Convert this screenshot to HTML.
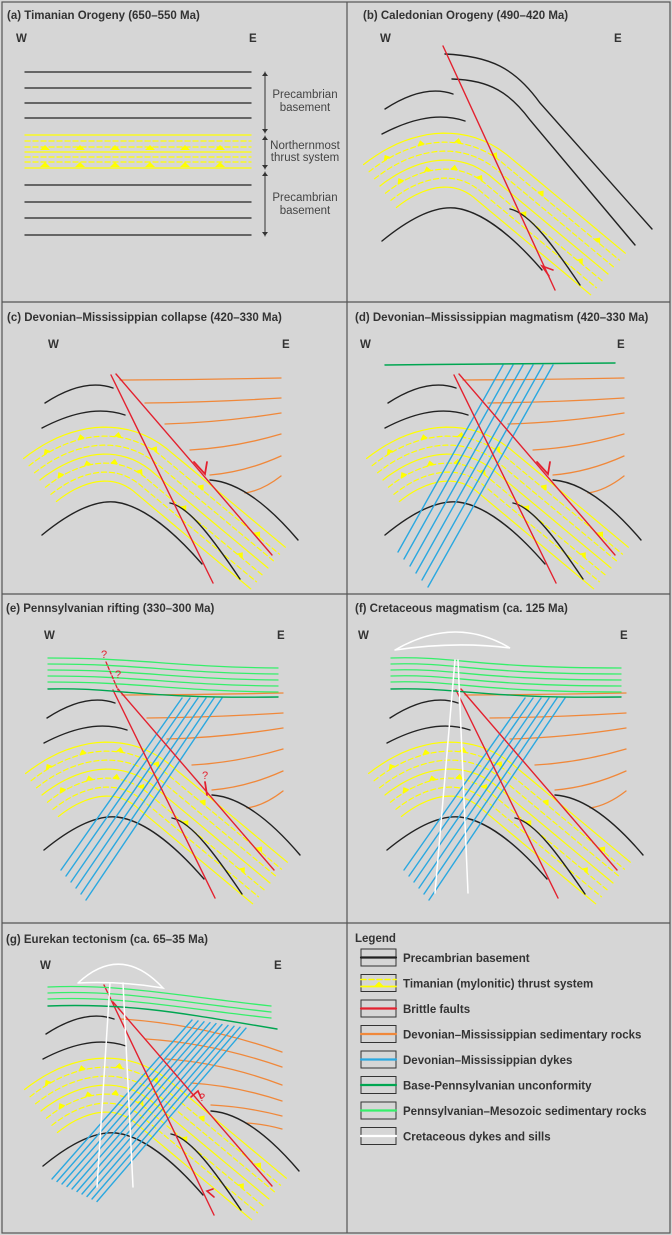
<!DOCTYPE html>
<html><head><meta charset="utf-8">
<style>
html,body{margin:0;padding:0;background:#d6d6d6;}
svg{display:block;font-family:"Liberation Sans",sans-serif;}
.t{font-weight:bold;font-size:11.5px;fill:#333;}
.we{font-weight:bold;font-size:11.5px;fill:#333;}
.lab{font-size:11.5px;fill:#444;}
.lg{font-weight:bold;font-size:11.5px;fill:#333;}
</style></head>
<body>
<svg id="fig" width="672" height="1235" viewBox="0 0 672 1235" xmlns="http://www.w3.org/2000/svg">
<rect x="0" y="0" width="672" height="1235" fill="#d6d6d6"/>
<defs>
<clipPath id="cb"><rect x="347" y="3" width="323" height="299"/></clipPath>
<clipPath id="cc"><rect x="3" y="302" width="344" height="292"/></clipPath>
<clipPath id="cd"><rect x="347" y="302" width="323" height="292"/></clipPath>
<clipPath id="ce"><rect x="3" y="594" width="344" height="329"/></clipPath>
<clipPath id="cf"><rect x="347" y="594" width="323" height="329"/></clipPath>
<clipPath id="cg"><rect x="3" y="923" width="344" height="310"/></clipPath>
</defs>
<g stroke="#555" stroke-width="1.2" fill="none">
<rect x="2" y="2" width="668" height="1231"/>
<line x1="347" y1="2" x2="347" y2="1233"/>
<line x1="2" y1="302" x2="670" y2="302"/>
<line x1="2" y1="594" x2="670" y2="594"/>
<line x1="2" y1="923" x2="670" y2="923"/>
</g>
<g>
<text class="t" x="7" y="19">(a) Timanian Orogeny (650–550 Ma)</text>
<text class="t" x="363" y="19">(b) Caledonian Orogeny (490–420 Ma)</text>
<text class="t" x="7" y="321">(c) Devonian–Mississippian collapse (420–330 Ma)</text>
<text class="t" x="355" y="321">(d) Devonian–Mississippian magmatism (420–330 Ma)</text>
<text class="t" x="6" y="612">(e) Pennsylvanian rifting (330–300 Ma)</text>
<text class="t" x="355" y="612">(f) Cretaceous magmatism (ca. 125 Ma)</text>
<text class="t" x="6" y="943">(g) Eurekan tectonism (ca. 65–35 Ma)</text>
</g>
<g>
<text class="we" x="16" y="42">W</text><text class="we" x="249" y="42">E</text>
<text class="we" x="380" y="42">W</text><text class="we" x="614" y="42">E</text>
<text class="we" x="48" y="348">W</text><text class="we" x="282" y="348">E</text>
<text class="we" x="360" y="348">W</text><text class="we" x="617" y="348">E</text>
<text class="we" x="44" y="639">W</text><text class="we" x="277" y="639">E</text>
<text class="we" x="358" y="639">W</text><text class="we" x="620" y="639">E</text>
<text class="we" x="40" y="969">W</text><text class="we" x="274" y="969">E</text>
</g>
<g id="pa"></g>
<g id="pb" clip-path="url(#cb)"><g transform="translate(340,8)" id="sb"></g></g>
<g id="pc" clip-path="url(#cc)"><g transform="translate(0,302)" id="sc"></g></g>
<g id="pd" clip-path="url(#cd)"><g transform="translate(343,302)" id="sd"></g></g>
<g id="pe" clip-path="url(#ce)"><g transform="translate(2,617)" id="se"></g></g>
<g id="pf" clip-path="url(#cf)"><g transform="translate(345,617)" id="sf"></g></g>
<g id="pg" clip-path="url(#cg)"><g transform="translate(1,933)" id="sg"></g></g>
<g id="legend">
<text class="lg" x="355" y="942">Legend</text>
</g>
</svg>
<script>
const NS='http://www.w3.org/2000/svg';
const C={black:'#222',yellow:'#ffff00',red:'#e3212f',orange:'#f0883a',blue:'#2aa8e0',dgreen:'#00a651',lgreen:'#35ef6a',white:'#ffffff'};
const legendLabels=['Precambrian basement','Timanian (mylonitic) thrust system','Brittle faults','Devonian–Mississippian sedimentary rocks','Devonian–Mississippian dykes','Base-Pennsylvanian unconformity','Pennsylvanian–Mesozoic sedimentary rocks','Cretaceous dykes and sills'];
const legendKeys=['black','yellow','red','orange','blue','dgreen','lgreen','white'];
const bandOffsets=[-27,-18,-9,0,9,18,27];
const bandDashed=[false,true,true,false,true,true,false];
const orangeY=[78,101,122,148,173,191];
const orangeX0=[120,145,165,190,210,245];
const orangeYEnd=[76,96,111,132,154,174];
const gOrangeY=[86,106,126,150,172,190];
const gOrangeYEnd=[119,134,152,168,183,196];

function mk(parent,tag,attrs){const e=document.createElementNS(NS,tag);for(const k in attrs)e.setAttribute(k,attrs[k]);parent.appendChild(e);return e;}
function path(g,d,col,w,dash,name){
  const p=mk(g,'path',{d:d,stroke:col,'stroke-width':w||1.3,fill:'none','stroke-linecap':'round'});
  if(dash)p.setAttribute('stroke-dasharray',dash);
  
  
  return p;
}
function bandCenter(){
  const pts=[];const P=[[40,178],[75,150],[120,140],[155,172]];
  for(let i=0;i<=20;i++){const t=i/20,u=1-t;
    pts.push([u*u*u*P[0][0]+3*u*u*t*P[1][0]+3*u*t*t*P[2][0]+t*t*t*P[3][0],
              u*u*u*P[0][1]+3*u*u*t*P[1][1]+3*u*t*t*P[2][1]+t*t*t*P[3][1]]);}
  for(let i=1;i<=10;i++){const t=i/10;pts.push([155+(268-155)*t,172+(266-172)*t]);}
  return pts;
}
function offsetPts(pts,o){
  return pts.map((p,i)=>{const a=pts[Math.max(0,i-1)],b=pts[Math.min(pts.length-1,i+1)];
    let dx=b[0]-a[0],dy=b[1]-a[1];const L=Math.hypot(dx,dy);dx/=L;dy/=L;
    return [p[0]+dy*o,p[1]-dx*o,dx,dy];});
}
function drawBand(g){
  const c=bandCenter();
  bandOffsets.forEach((o,k)=>{
    const q=offsetPts(c,o);
    const d='M'+q.map(p=>p[0].toFixed(1)+','+p[1].toFixed(1)).join(' L');
    path(g,d,C.yellow,1.2,bandDashed[k]?'5,3':null,'thrust-band-line');
    if(o===-9||o===18){
      for(let i=3;i<q.length;i+=5){const p=q[i];
        const nx=p[3],ny=-p[2];
        const pts=[p[0]-p[2]*4,p[1]-p[3]*4,p[0]+p[2]*4,p[1]+p[3]*4,p[0]+nx*5,p[1]+ny*5].map(v=>v.toFixed(1));
        const t=mk(g,'polygon',{points:`${pts[0]},${pts[1]} ${pts[2]},${pts[3]} ${pts[4]},${pts[5]}`,fill:C.yellow});
        
        
      }
    }
  });
}
function drawBase(g){
  drawBand(g);
  path(g,'M45,101 C65,88 90,78 113,86',C.black,1.4,null,'basement-arc');
  path(g,'M42,126 C65,114 95,103 125,113',C.black,1.4,null,'basement-arc');
  path(g,'M42,233 C70,210 95,198 115,200 C140,203 170,225 202,262',C.black,1.4,null,'basement-arc-lower');
  path(g,'M170,201 C190,205 215,240 240,277',C.black,1.4,null,'basement-arc-faulted');
}
function drawOrange(g,ys,ye){
  ys.forEach((y,i)=>{const x0=orangeX0[i];const y2=ye[i];
    path(g,`M${x0},${y} Q${(x0+280)/2},${y+(y2-y)*0.15} 281,${y2}`,C.orange,1.3,null,'sediment-line');});
  path(g,'M210,178 C240,180 270,205 298,238',C.black,1.4,null,'basement-arc-east');
}
function faults(g){
  path(g,'M111,73 L213,281',C.red,1.4,null,'brittle-fault');
  path(g,'M116,72 L272,253',C.red,1.4,null,'brittle-fault');
}
function dykes(g,n,x0,y0,dxb,dyb,xt,yt,dxt,dyt){
  for(let i=0;i<n;i++)path(g,`M${x0+dxb*i},${y0+dyb*i} L${xt+dxt*i},${yt+dyt*i}`,C.blue,1.4,null,'dyke');
}
function q(g,x,y){const t=mk(g,'text',{x:x,y:y,fill:C.red,'font-size':'11'});t.textContent='?';}

(function(){
  const g=document.getElementById('pa');
  [72,88,103,118,185,202,218,235].forEach(y=>path(g,`M25,${y} L251,${y}`,C.black,1.3,null,'basement-line'));
  [[135,0],[141,1],[147,1],[152,0],[157,1],[162,1],[168,0]].forEach(a=>path(g,`M25,${a[0]} L251,${a[0]}`,C.yellow,1.3,a[1]?'5,3':null,'thrust-line'));
  [45,80,115,150,185,220].forEach(x=>{[150,167].forEach(y=>{const t=mk(g,'polygon',{points:`${x-5},${y} ${x+5},${y} ${x},${y-5}`,fill:C.yellow});});});
  [[72,133],[136,169],[172,236]].forEach(a=>{path(g,`M265,${a[0]} L265,${a[1]}`,'#333',1,null,'extent-arrow');
    mk(g,'polygon',{points:`262,${a[0]+4} 268,${a[0]+4} 265,${a[0]}`,fill:'#333'});
    mk(g,'polygon',{points:`262,${a[1]-4} 268,${a[1]-4} 265,${a[1]}`,fill:'#333'});});
  const labs=[['Precambrian',98],['basement',111],['Northernmost',149],['thrust system',161],['Precambrian',201],['basement',214]];
  labs.forEach(l=>{const t=mk(g,'text',{x:305,y:l[1],'text-anchor':'middle',class:'lab'});t.textContent=l[0];});
})();
(function(){const g=document.getElementById('sb');drawBase(g);
  path(g,'M105,46 C150,48 175,60 200,95 L312,221',C.black,1.4,null,'basement-arc-east');
  path(g,'M112,71 C150,72 170,85 190,112 L295,237',C.black,1.4,null,'basement-arc-east');
  path(g,'M103,38 L215,282',C.red,1.4,null,'brittle-fault');
  path(g,'M209,268 L202,258 L213,262',C.red,1.6,null,'fault-arrow');
})();
(function(){const g=document.getElementById('sc');drawBase(g);drawOrange(g,orangeY,orangeYEnd);faults(g);
  path(g,'M194,160 L205,172 L207,160',C.red,1.8,null,'fault-arrow');})();
(function(){const g=document.getElementById('sd');drawBase(g);drawOrange(g,orangeY,orangeYEnd);
  dykes(g,6,55,250,6,7,160,63,10,0);faults(g);
  path(g,'M42,63 C120,62 200,62 272,61',C.dgreen,1.4,null,'unconformity');
  path(g,'M194,160 L205,172 L207,160',C.red,1.8,null,'fault-arrow');})();
(function(){const g=document.getElementById('se');drawBase(g);drawOrange(g,orangeY,orangeYEnd);
  dykes(g,6,59,253,5,6,180,81,8,0);faults(g);
  [41,47,53,59,65].forEach((y,i)=>path(g,`M46,${y} C140,${y} 170,${y+9} 276,${y+10}`,C.lgreen,1.3,null,'pennsylvanian-line'));
  path(g,'M46,72 C110,70 140,82 276,80',C.dgreen,1.4,null,'unconformity');
  path(g,'M104,45 L116,73',C.red,1.3,'3,2','inferred-fault');
  q(g,99,41);q(g,113,61);q(g,200,162);
  path(g,'M203,165 L205,178',C.red,1.8,null,'fault-arrow');})();
(function(){const g=document.getElementById('sf');drawBase(g);drawOrange(g,orangeY,orangeYEnd);
  dykes(g,6,59,253,5,6,180,81,8,0);faults(g);
  [41,47,53,59,65].forEach((y,i)=>path(g,`M46,${y} C110,${y-2} 130,${y+10} 276,${y+10}`,C.lgreen,1.3,null,'pennsylvanian-line'));
  path(g,'M46,72 C110,70 140,82 276,80',C.dgreen,1.4,null,'unconformity');
  path(g,'M90,276 L110,43 M123,276 L113,43',C.white,1.5,null,'cretaceous-dyke');
  path(g,'M50,33 Q110,-2 165,31 Q110,24 50,33',C.white,1.5,null,'cretaceous-sill');})();
(function(){const g=document.getElementById('sg');drawBase(g);drawOrange(g,gOrangeY,gOrangeYEnd);
  dykes(g,10,51,246,5,2.5,191,87,6,0.9);
  path(g,'M103,52 L213,282',C.red,1.4,null,'brittle-fault');
  path(g,'M112,69 L271,253',C.red,1.4,null,'brittle-fault');
  [54,60,66].forEach(y=>path(g,`M47,${y} C120,${y-3} 170,${y+8} 270,${y+19}`,C.lgreen,1.3,null,'pennsylvanian-line'));
  path(g,'M47,73 C130,70 180,80 276,96',C.dgreen,1.4,null,'unconformity');
  path(g,'M96,254 L109,50 M132,254 L122,50',C.white,1.5,null,'cretaceous-dyke');
  path(g,'M77,50 Q120,10 162,55 Q120,48 77,50',C.white,1.5,null,'cretaceous-sill');
  path(g,'M190,164 L197,158 L200,165',C.red,1.6,null,'fault-arrow');q(g,198,168);
  path(g,'M213,264 L206,258 L212,256',C.red,1.6,null,'fault-arrow');})();
(function(){const g=document.getElementById('legend');
  legendLabels.forEach((lab,i)=>{const y=949+i*25.5;
    const r=mk(g,'rect',{x:361,y:y,width:35,height:17,fill:'#d6d6d6',stroke:'#333','stroke-width':1});
    
    const k=legendKeys[i];
    if(k==='yellow'){path(g,`M361,${y+5} L396,${y+5}`,C.yellow,1.5,'5,3','legend-line');path(g,`M361,${y+12} L396,${y+12}`,C.yellow,1.8,null,'legend-line');mk(g,'polygon',{points:`374,${y+12} 384,${y+12} 379,${y+7}`,fill:C.yellow});}
    else path(g,`M361,${y+8.5} L396,${y+8.5}`,C[k],2.2,null,'legend-line');
    const t=mk(g,'text',{x:403,y:y+13,class:'lg'});t.textContent=lab;
    
  });})();
</script>
</body></html>
